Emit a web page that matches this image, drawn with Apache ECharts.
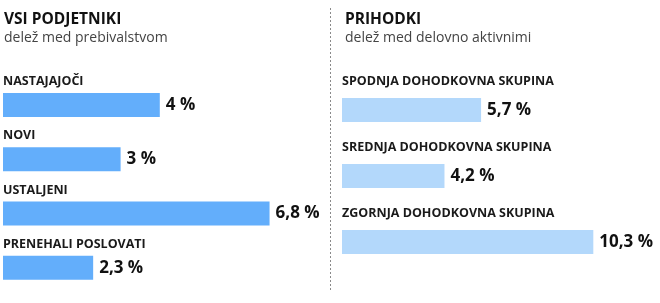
<!DOCTYPE html>
<html><head><meta charset="utf-8">
<script src="https://cdn.jsdelivr.net/npm/echarts@6/dist/echarts.min.js"></script>
<style>html,body{margin:0;padding:0;background:#fff}#c{width:660px;height:303px}</style>
</head><body><div id="c"></div>
<script>
const leftTitle = 'VSI PODJETNIKI';
const leftSub = 'delež med prebivalstvom';
const leftCats = ['NASTAJAJOČI', 'NOVI', 'USTALJENI', 'PRENEHALI POSLOVATI'];
const leftVals = [4, 3, 6.8, 2.3];
const rightTitle = 'PRIHODKI';
const rightSub = 'delež med delovno aktivnimi';
const rightCats = ['SPODNJA DOHODKOVNA SKUPINA', 'SREDNJA DOHODKOVNA SKUPINA', 'ZGORNJA DOHODKOVNA SKUPINA'];
const rightVals = [5.7, 4.2, 10.3];

const FONT = '"Open Sans", "Noto Sans", sans-serif';
const fmt = p => String(p.value).replace('.', ',') + ' %';
const chart = echarts.init(document.getElementById('c'), null, {renderer: 'canvas'});

function yAx(idx, cats, pad) {
  return {
    type: 'category', gridIndex: idx, data: cats, inverse: true,
    axisLine: {show: false}, axisTick: {show: false}, splitLine: {show: false},
    axisLabel: {
      inside: true, margin: 0, align: 'left', verticalAlign: 'bottom',
      padding: [0, 0, pad, 0], lineHeight: 13,
      fontFamily: FONT, fontSize: 12.5, fontWeight: 'bold', color: '#1a1a1a'
    }
  };
}
function xAx(idx, max) {
  return {type: 'value', gridIndex: idx, min: 0, max: max, show: false};
}
function ser(idx, vals, color) {
  return {
    type: 'bar', xAxisIndex: idx, yAxisIndex: idx, data: vals, barWidth: 24,
    itemStyle: {color: color}, silent: true,
    label: {show: true, position: 'right', distance: 6, formatter: fmt,
      fontFamily: FONT, fontSize: 17, fontWeight: 'bold', color: '#111'}
  };
}

chart.setOption({
  animation: false,
  title: [
    {text: leftTitle, subtext: leftSub, left: -1, top: 7, itemGap: 3,
     textStyle: {fontFamily: FONT, fontSize: 15.5, fontWeight: 'bold', color: '#111'},
     subtextStyle: {fontFamily: FONT, fontSize: 14, fontWeight: 'normal', color: '#444'}},
    {text: rightTitle, subtext: rightSub, left: 340, top: 7, itemGap: 3,
     textStyle: {fontFamily: FONT, fontSize: 15.5, fontWeight: 'bold', color: '#111'},
     subtextStyle: {fontFamily: FONT, fontSize: 14, fontWeight: 'normal', color: '#444'}}
  ],
  grid: [
    {left: -1, top: 77.8, width: 396, height: 217.2},
    {left: 342, top: 77, width: 292.8, height: 198}
  ],
  xAxis: [xAx(0, 10), xAx(1, 12)],
  yAxis: [yAx(0, leftCats, 17), yAx(1, rightCats, 22)],
  series: [ser(0, leftVals, '#63aefb'), ser(1, rightVals, '#b3d8fb')],
  graphic: [{type: 'line', shape: {x1: 330.5, y1: 8, x2: 330.5, y2: 292},
    style: {stroke: '#8a8a8a', lineWidth: 1, lineDash: [2, 2]}, silent: true}]
});
</script></body></html>
